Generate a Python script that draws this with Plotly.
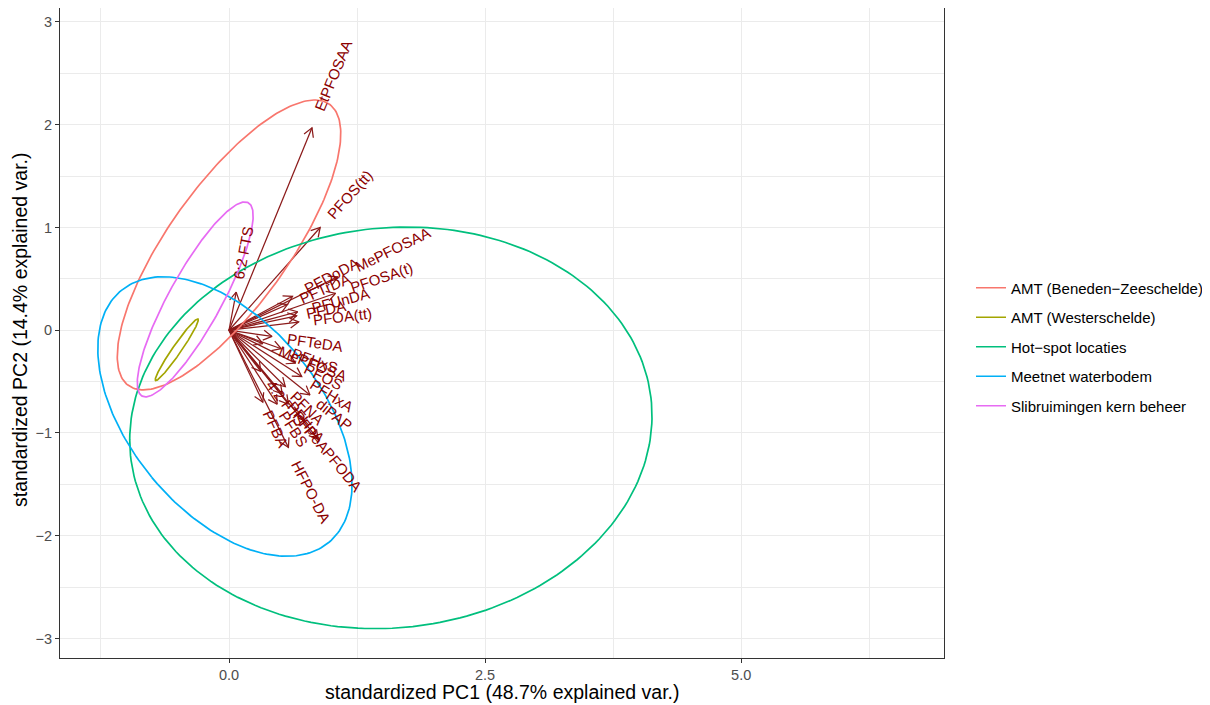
import math
import numpy as np
import plotly.graph_objects as go

# ---------------- data ----------------
var_names = ["EtPFOSAA", "PFOS(tt)", "6:2 FTS", "MePFOSAA", "PFDoDA", "PFTrDA",
             "PFOSA(t)", "PFUnDA", "PFDA", "PFOA(tt)", "PFTeDA", "PFHxS",
             "MePFOSA", "PFOS", "PFHxA", "diPAP", "PFNA", "PFHpA", "PFPeA",
             "PFBS", "4:2 FTS", "PFBA", "PFODA", "HFPO-DA"]
var_pc1 = [0.81, 0.89, 0.07, 1.06, 0.62, 0.57,
           1.04, 0.67, 0.66, 0.68, 0.42, 0.51,
           0.33, 0.65, 0.71, 0.79, 0.55, 0.52, 0.58,
           0.47, 0.31, 0.33, 0.87, 0.58]
var_pc2 = [1.97, 1.00, 0.37, 0.52, 0.33, 0.25,
           0.36, 0.18, 0.14, 0.08, -0.06, -0.18,
           -0.13, -0.32, -0.45, -0.63, -0.55, -0.62, -0.72,
           -0.72, -0.40, -0.70, -1.06, -1.14]

groups = ["AMT (Beneden\u2212Zeeschelde)", "AMT (Westerschelde)", "Hot\u2212spot locaties",
          "Meetnet waterbodem", "Slibruimingen kern beheer"]
group_colors = ["#F8766D", "#A3A500", "#00BF7D", "#00B0F6", "#E76BF3"]
# ellipse (68%) centre and covariance-like parameters per group
ell_cx = [0.00, -0.51, 1.58, -0.04, -0.33]
ell_cy = [0.83, -0.19, -0.95, -0.84, 0.30]
ell_sxx = [1.19, 0.044, 6.50, 1.54, 0.32]
ell_syy = [1.99, 0.090, 3.82, 1.85, 0.90]
ell_sxy = [1.18, 0.061, 0.30, -0.82, 0.46]

x_ticks = [0.0, 2.5, 5.0]
x_ticktext = ["0.0", "2.5", "5.0"]
y_ticks = [-3, -2, -1, 0, 1, 2, 3]
y_ticktext = ["\u22123", "\u22122", "\u22121", "0", "1", "2", "3"]

# ---------------- helpers ----------------
AFM = {}
for ch, w in zip("ABCDEFGHIJKLMNOPQRSTUVWXYZ",
                 [.667, .667, .722, .722, .667, .611, .778, .722, .278, .5, .667, .556, .833,
                  .722, .778, .667, .778, .722, .667, .611, .722, .667, .944, .667, .667, .611]):
    AFM[ch] = w
for ch, w in zip("abcdefghijklmnopqrstuvwxyz",
                 [.556, .556, .5, .556, .556, .278, .556, .556, .222, .222, .5, .222, .833,
                  .556, .556, .556, .556, .333, .5, .278, .556, .5, .722, .5, .5, .5]):
    AFM[ch] = w
AFM.update({" ": .278, "(": .333, ")": .333, ":": .278, "-": .333, ".": .278})
for d in "0123456789":
    AFM[d] = .556


def text_width(s, size):
    return sum(AFM.get(c, .556) for c in s) * size


FONT = "Liberation Sans, Arial, Helvetica, sans-serif"
LABEL_SIZE = 15
X_RANGE = [-1.65, 6.98]
Y_RANGE = [-3.19, 3.136]
PLOT_W = 884
PLOT_H = 650
SX = PLOT_W / (X_RANGE[1] - X_RANGE[0])   # px per unit
SY = PLOT_H / (Y_RANGE[1] - Y_RANGE[0])
HEAD_PX = 10.0
HEAD_ANG = math.radians(30)
ARROW_COL = "#8B1A1A"

fig = go.Figure()

# arrows (shafts + open heads) built from the loadings
sx_list, sy_list = [], []
for vx, vy in zip(var_pc1, var_pc2):
    sx_list += [0, vx, None]
    sy_list += [0, vy, None]
    px, py = vx * SX, vy * SY
    n = math.hypot(px, py)
    ux, uy = px / n, py / n
    barbs = []
    for s in (1, -1):
        a = HEAD_ANG * s
        bx = ux * math.cos(a) - uy * math.sin(a)
        by = ux * math.sin(a) + uy * math.cos(a)
        barbs.append((vx - HEAD_PX * bx / SX, vy - HEAD_PX * by / SY))
    sx_list += [barbs[0][0], vx, barbs[1][0], None]
    sy_list += [barbs[0][1], vy, barbs[1][1], None]
fig.add_trace(go.Scatter(x=sx_list, y=sy_list, mode="lines",
                         line=dict(color=ARROW_COL, width=1.25),
                         showlegend=False, hoverinfo="skip"))

# ellipses
t = np.linspace(0, 2 * np.pi, 240)
for g, col, cx, cy, sxx, syy, sxy in zip(groups, group_colors, ell_cx, ell_cy,
                                          ell_sxx, ell_syy, ell_sxy):
    cov = np.array([[sxx, sxy], [sxy, syy]])
    vals, vecs = np.linalg.eigh(cov)
    circ = np.vstack([np.cos(t), np.sin(t)])
    pts = vecs @ (np.sqrt(vals)[:, None] * circ)
    fig.add_trace(go.Scatter(x=cx + pts[0], y=cy + pts[1], mode="lines",
                             line=dict(color=col, width=1.7), name=g,
                             legendgroup=g, hoverinfo="skip"))

annotations = []
# variable labels (hjust = -0.25 along arrow direction)
for name, vx, vy in zip(var_names, var_pc1, var_pc2):
    ang = math.degrees(math.atan(vy / vx))
    norm = math.hypot(vx, vy)
    ux, uy = vx / norm, vy / norm
    d = 0.75 * text_width(name, LABEL_SIZE)
    annotations.append(dict(x=vx, y=vy, xref="x", yref="y", text=name,
                            showarrow=False, textangle=-ang,
                            xanchor="center", yanchor="middle",
                            xshift=d * ux, yshift=d * uy,
                            font=dict(family=FONT, size=LABEL_SIZE, color="#8B0000")))

# axis titles
annotations.append(dict(x=0.5, y=-34 / PLOT_H, xref="paper", yref="paper",
                        text="standardized PC1 (48.7% explained var.)", showarrow=False,
                        xanchor="center", yanchor="middle",
                        font=dict(family=FONT, size=19.5, color="black")))
annotations.append(dict(x=-40 / PLOT_W, y=(658 - 330) / PLOT_H, xref="paper", yref="paper",
                        text="standardized PC2 (14.4% explained var.)", showarrow=False,
                        textangle=-90, xanchor="center", yanchor="middle",
                        font=dict(family=FONT, size=19.5, color="black")))

axis_common = dict(showline=True, mirror=True, linecolor="#333333", linewidth=1.1,
                   ticks="outside", ticklen=4, tickcolor="#333333", tickwidth=1.1,
                   zeroline=False, gridcolor="#EBEBEB", gridwidth=1.1,
                   tickfont=dict(family=FONT, size=14.5, color="#4D4D4D"))

fig.update_layout(
    width=1210, height=697,
    margin=dict(l=52, r=274, t=0, b=47, autoexpand=False),
    plot_bgcolor="white", paper_bgcolor="white",
    xaxis=dict(range=X_RANGE, tickvals=x_ticks, ticktext=x_ticktext,
               minor=dict(tickvals=[-1.25, 1.25, 3.75, 6.25], showgrid=True,
                          gridcolor="#EBEBEB", gridwidth=0.6, ticks=""),
               **axis_common),
    yaxis=dict(range=Y_RANGE, tickvals=y_ticks, ticktext=y_ticktext,
               minor=dict(tickvals=[-2.5, -1.5, -0.5, 0.5, 1.5, 2.5], showgrid=True,
                          gridcolor="#EBEBEB", gridwidth=0.6, ticks=""),
               **axis_common),
    legend=dict(x=(971 - 60) / PLOT_W, xanchor="left", y=(658 - 347) / PLOT_H,
                yanchor="middle",
                font=dict(family=FONT, size=15, color="black"),
                itemwidth=30, tracegroupgap=7, bgcolor="rgba(0,0,0,0)"),
    annotations=annotations,
    showlegend=True,
)

fig.write_html("out.html")
